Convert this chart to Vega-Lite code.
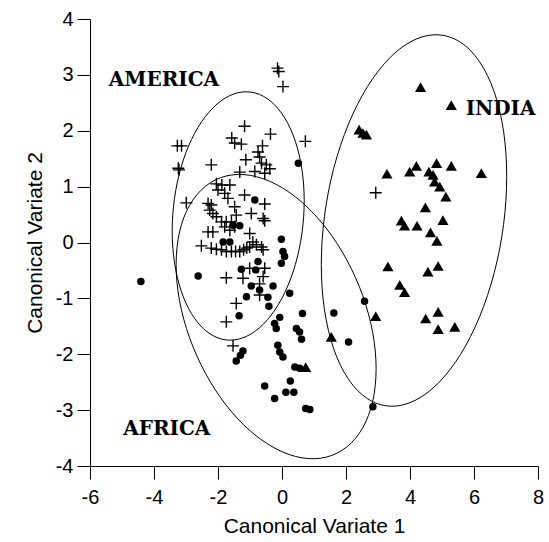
{
  "$schema": "https://vega.github.io/schema/vega-lite/v6.json",
  "width": 448,
  "height": 447,
  "autosize": "none",
  "padding": {"left": 90, "top": 19, "right": 11, "bottom": 76},
  "background": "white",
  "config": {
    "view": {"stroke": null},
    "axis": {
      "domainColor": "black", "domainWidth": 1,
      "tickColor": "black", "tickWidth": 1, "tickSize": 13,
      "labelColor": "black", "labelFont": "Liberation Sans", "labelFontSize": 20,
      "titleColor": "black", "titleFont": "Liberation Sans", "titleFontSize": 21, "titleFontWeight": "normal",
      "grid": false, "labelFlush": false, "labelOverlap": false,
      "labelExpr": "replace(datum.label, '\u2212', '-')"
    }
  },
  "datasets": {
    "america": [
      {"x":-0.14,"y":3.12},{"x":-0.10,"y":3.06},{"x":0.03,"y":2.79},{"x":-1.17,"y":2.08},{"x":-0.36,"y":1.94},{"x":0.73,"y":1.81},
      {"x":-3.27,"y":1.73},{"x":-3.14,"y":1.73},{"x":-1.57,"y":1.87},{"x":-1.48,"y":1.78},{"x":-1.27,"y":1.76},{"x":-0.61,"y":1.73},
      {"x":-0.75,"y":1.62},{"x":-0.70,"y":1.53},{"x":-3.22,"y":1.30},{"x":-3.24,"y":1.33},{"x":-2.21,"y":1.39},{"x":-1.13,"y":1.48},
      {"x":-0.64,"y":1.42},{"x":-0.49,"y":1.39},{"x":-0.38,"y":1.32},{"x":-0.54,"y":1.24},{"x":-0.85,"y":1.27},{"x":-1.32,"y":1.26},
      {"x":-2.05,"y":1.05},{"x":-1.88,"y":1.03},{"x":-1.63,"y":1.03},{"x":-2.00,"y":0.94},{"x":-1.79,"y":0.88},{"x":-1.69,"y":0.79},
      {"x":-2.99,"y":0.71},{"x":-2.31,"y":0.70},{"x":-2.21,"y":0.67},{"x":-2.26,"y":0.58},{"x":-2.16,"y":0.52},{"x":-1.48,"y":0.64},
      {"x":-1.17,"y":0.85},{"x":-0.54,"y":0.69},{"x":-0.96,"y":0.52},{"x":-0.59,"y":0.43},{"x":-0.54,"y":0.39},{"x":-1.43,"y":0.49},
      {"x":-2.05,"y":0.46},{"x":-1.89,"y":0.37},{"x":-1.74,"y":0.37},{"x":-1.58,"y":0.37},{"x":-1.79,"y":0.28},{"x":-1.48,"y":0.28},
      {"x":-1.63,"y":0.22},{"x":-2.31,"y":0.19},{"x":-2.16,"y":0.19},{"x":-1.01,"y":0.16},{"x":-0.91,"y":0.01},{"x":-0.80,"y":-0.04},
      {"x":-0.64,"y":-0.08},{"x":-0.59,"y":-0.13},{"x":-2.52,"y":-0.06},{"x":-2.21,"y":-0.10},{"x":-2.05,"y":-0.12},{"x":-1.89,"y":-0.13},
      {"x":-1.74,"y":-0.16},{"x":-1.58,"y":-0.16},{"x":-1.45,"y":-0.16},{"x":-1.32,"y":-0.16},{"x":-1.20,"y":-0.13},{"x":-1.10,"y":-0.10},
      {"x":-1.01,"y":-0.08},{"x":-1.01,"y":-0.46},{"x":-0.54,"y":-0.46},{"x":-0.59,"y":-0.61},{"x":-1.22,"y":-0.64},{"x":-1.74,"y":-0.63},
      {"x":-0.70,"y":-0.94},{"x":-0.70,"y":-0.74},{"x":-1.43,"y":-1.09},{"x":-1.74,"y":-1.42},{"x":-1.53,"y":-1.85},{"x":2.93,"y":0.89}
    ],
    "africa": [
      {"x":0.51,"y":1.42},{"x":-0.85,"y":0.76},{"x":-1.53,"y":0.31},{"x":-1.32,"y":0.30},{"x":-1.84,"y":0.01},{"x":-1.63,"y":0.01},
      {"x":-0.02,"y":0.06},{"x":0.03,"y":-0.16},{"x":0.08,"y":-0.25},{"x":-0.02,"y":-0.37},{"x":-0.75,"y":-0.34},{"x":-1.27,"y":-0.48},
      {"x":-0.82,"y":-0.49},{"x":-2.62,"y":-0.60},{"x":-4.41,"y":-0.70},{"x":-0.96,"y":-0.78},{"x":-0.70,"y":-0.85},{"x":-0.28,"y":-0.78},
      {"x":-1.11,"y":-0.97},{"x":-0.44,"y":-0.98},{"x":-0.41,"y":-1.14},{"x":0.24,"y":-0.91},{"x":-1.34,"y":-1.31},{"x":-0.07,"y":-1.34},
      {"x":-0.23,"y":-1.45},{"x":-0.18,"y":-1.54},{"x":0.64,"y":-1.27},{"x":1.62,"y":-1.26},{"x":2.58,"y":-1.05},{"x":0.45,"y":-1.54},
      {"x":0.55,"y":-1.60},{"x":0.61,"y":-1.73},{"x":2.08,"y":-1.78},{"x":-0.13,"y":-1.84},{"x":-0.07,"y":-1.96},{"x":0.03,"y":-2.05},
      {"x":-1.22,"y":-1.94},{"x":-1.30,"y":-2.02},{"x":-1.43,"y":-2.12},{"x":0.40,"y":-2.23},{"x":0.55,"y":-2.25},{"x":0.26,"y":-2.48},
      {"x":-0.54,"y":-2.57},{"x":0.12,"y":-2.68},{"x":0.37,"y":-2.68},{"x":-0.23,"y":-2.79},{"x":0.74,"y":-2.97},{"x":0.87,"y":-2.99},
      {"x":2.84,"y":-2.94}
    ],
    "india": [
      {"x":4.33,"y":2.78},{"x":5.29,"y":2.46},{"x":2.41,"y":2.02},{"x":2.53,"y":1.96},{"x":2.64,"y":1.93},{"x":3.28,"y":1.23},
      {"x":3.99,"y":1.27},{"x":4.20,"y":1.37},{"x":4.83,"y":1.42},{"x":4.59,"y":1.27},{"x":4.72,"y":1.21},{"x":5.29,"y":1.37},
      {"x":6.23,"y":1.24},{"x":4.77,"y":1.09},{"x":4.93,"y":1.00},{"x":5.12,"y":0.82},{"x":4.48,"y":0.63},{"x":5.03,"y":0.40},
      {"x":3.73,"y":0.39},{"x":3.83,"y":0.30},{"x":4.22,"y":0.30},{"x":4.64,"y":0.18},{"x":4.84,"y":0.03},{"x":3.31,"y":-0.43},
      {"x":4.88,"y":-0.42},{"x":4.56,"y":-0.52},{"x":3.68,"y":-0.76},{"x":3.83,"y":-0.89},{"x":4.88,"y":-1.24},{"x":4.49,"y":-1.36},
      {"x":4.88,"y":-1.55},{"x":5.40,"y":-1.51},{"x":2.93,"y":-1.32},{"x":1.54,"y":-1.69},{"x":0.74,"y":-2.23}
    ],
    "ellipses": [
      {"g":"America","i":0,"x":0.694,"y":0.744},{"g":"America","i":1,"x":0.623,"y":1.306},{"g":"America","i":2,"x":0.417,"y":1.811},
      {"g":"America","i":3,"x":0.089,"y":2.225},{"g":"America","i":4,"x":-0.338,"y":2.520},{"g":"America","i":5,"x":-0.835,"y":2.676},
      {"g":"America","i":6,"x":-1.369,"y":2.681},{"g":"America","i":7,"x":-1.903,"y":2.536},{"g":"America","i":8,"x":-2.400,"y":2.250},
      {"g":"America","i":9,"x":-2.827,"y":1.845},{"g":"America","i":10,"x":-3.155,"y":1.345},{"g":"America","i":11,"x":-3.361,"y":0.786},
      {"g":"America","i":12,"x":-3.432,"y":0.206},{"g":"America","i":13,"x":-3.361,"y":-0.356},{"g":"America","i":14,"x":-3.155,"y":-0.861},
      {"g":"America","i":15,"x":-2.827,"y":-1.275},{"g":"America","i":16,"x":-2.400,"y":-1.570},{"g":"America","i":17,"x":-1.903,"y":-1.726},
      {"g":"America","i":18,"x":-1.369,"y":-1.731},{"g":"America","i":19,"x":-0.835,"y":-1.586},{"g":"America","i":20,"x":-0.338,"y":-1.300},
      {"g":"America","i":21,"x":0.089,"y":-0.895},{"g":"America","i":22,"x":0.417,"y":-0.395},{"g":"America","i":23,"x":0.623,"y":0.164},
      {"g":"Africa","i":0,"x":2.941,"y":-2.258},{"g":"Africa","i":1,"x":2.835,"y":-2.839},{"g":"Africa","i":2,"x":2.522,"y":-3.317},
      {"g":"Africa","i":3,"x":2.025,"y":-3.658},{"g":"Africa","i":4,"x":1.379,"y":-3.842},{"g":"Africa","i":5,"x":0.625,"y":-3.854},
      {"g":"Africa","i":6,"x":-0.184,"y":-3.693},{"g":"Africa","i":7,"x":-0.993,"y":-3.372},{"g":"Africa","i":8,"x":-1.747,"y":-2.910},
      {"g":"Africa","i":9,"x":-2.393,"y":-2.340},{"g":"Africa","i":10,"x":-2.890,"y":-1.703},{"g":"Africa","i":11,"x":-3.203,"y":-1.039},
      {"g":"Africa","i":12,"x":-3.309,"y":-0.394},{"g":"Africa","i":13,"x":-3.203,"y":0.187},{"g":"Africa","i":14,"x":-2.890,"y":0.665},
      {"g":"Africa","i":15,"x":-2.393,"y":1.006},{"g":"Africa","i":16,"x":-1.747,"y":1.190},{"g":"Africa","i":17,"x":-0.993,"y":1.202},
      {"g":"Africa","i":18,"x":-0.184,"y":1.041},{"g":"Africa","i":19,"x":0.625,"y":0.720},{"g":"Africa","i":20,"x":1.379,"y":0.258},
      {"g":"Africa","i":21,"x":2.025,"y":-0.312},{"g":"Africa","i":22,"x":2.522,"y":-0.949},{"g":"Africa","i":23,"x":2.835,"y":-1.613},
      {"g":"India","i":0,"x":7.022,"y":1.183},{"g":"India","i":1,"x":6.924,"y":1.992},{"g":"India","i":2,"x":6.634,"y":2.692},
      {"g":"India","i":3,"x":6.173,"y":3.235},{"g":"India","i":4,"x":5.574,"y":3.585},{"g":"India","i":5,"x":4.875,"y":3.717},
      {"g":"India","i":6,"x":4.125,"y":3.623},{"g":"India","i":7,"x":3.375,"y":3.309},{"g":"India","i":8,"x":2.677,"y":2.795},
      {"g":"India","i":9,"x":2.077,"y":2.119},{"g":"India","i":10,"x":1.616,"y":1.326},{"g":"India","i":11,"x":1.327,"y":0.468},
      {"g":"India","i":12,"x":1.228,"y":-0.395},{"g":"India","i":13,"x":1.327,"y":-1.204},{"g":"India","i":14,"x":1.616,"y":-1.904},
      {"g":"India","i":15,"x":2.077,"y":-2.447},{"g":"India","i":16,"x":2.677,"y":-2.797},{"g":"India","i":17,"x":3.375,"y":-2.929},
      {"g":"India","i":18,"x":4.125,"y":-2.835},{"g":"India","i":19,"x":4.875,"y":-2.521},{"g":"India","i":20,"x":5.574,"y":-2.007},
      {"g":"India","i":21,"x":6.173,"y":-1.331},{"g":"India","i":22,"x":6.634,"y":-0.538},{"g":"India","i":23,"x":6.924,"y":0.320}
    ],
    "labels": [
      {"label":"AMERICA","x":-3.69,"y":2.90},
      {"label":"AFRICA","x":-3.60,"y":-3.34},
      {"label":"INDIA","x":6.83,"y":2.39}
    ]
  },
  "encoding": {
    "x": {
      "field": "x", "type": "quantitative",
      "scale": {"domain": [-6, 8], "nice": false, "zero": false},
      "axis": {"title": "Canonical Variate 1", "values": [-6, -4, -2, 0, 2, 4, 6, 8], "labelPadding": 8, "titlePadding": 8}
    },
    "y": {
      "field": "y", "type": "quantitative",
      "scale": {"domain": [-4, 4], "nice": false, "zero": false},
      "axis": {"title": "Canonical Variate 2", "values": [-4, -3, -2, -1, 0, 1, 2, 3, 4], "labelPadding": 4, "titlePadding": 10}
    }
  },
  "layer": [
    {
      "data": {"name": "ellipses"},
      "mark": {"type": "line", "interpolate": "cardinal-closed", "color": "black", "strokeWidth": 1},
      "encoding": {
        "detail": {"field": "g", "type": "nominal"},
        "order": {"field": "i", "type": "quantitative"}
      }
    },
    {
      "data": {"name": "america"},
      "mark": {"type": "point", "shape": "M-1,0H1M0,-1V1", "filled": false, "stroke": "black", "strokeWidth": 1.4, "size": 144, "opacity": 1}
    },
    {
      "data": {"name": "africa"},
      "mark": {"type": "circle", "color": "black", "size": 56, "opacity": 1}
    },
    {
      "data": {"name": "india"},
      "mark": {"type": "point", "shape": "triangle-up", "filled": true, "color": "black", "size": 125, "opacity": 1}
    },
    {
      "data": {"name": "labels"},
      "mark": {"type": "text", "font": "DejaVu Serif", "fontWeight": "bold", "fontSize": 20, "color": "black", "align": "center", "baseline": "middle"},
      "encoding": {"text": {"field": "label", "type": "nominal"}}
    }
  ]
}
